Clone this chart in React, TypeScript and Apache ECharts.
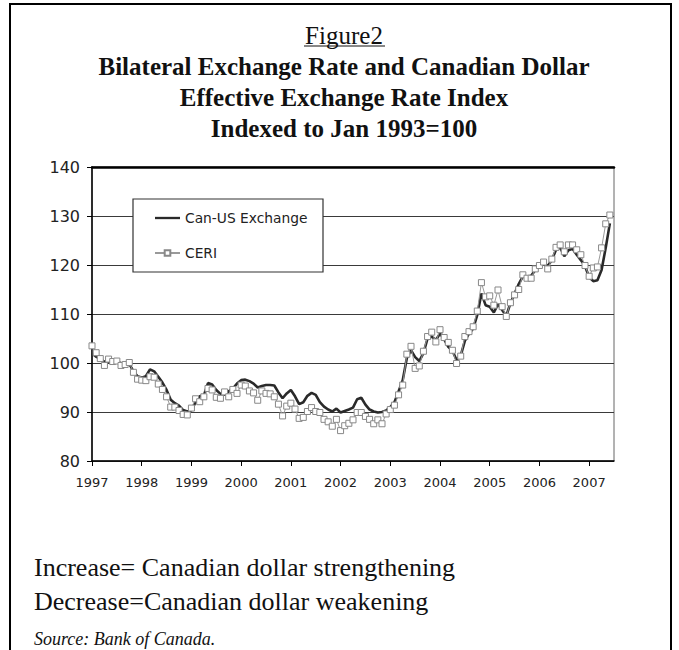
import React, { useEffect, useRef } from "react";
import * as echarts from "echarts";

// ---- Data ----
const startYear = 1997;
const endYear = 2007;
const endMonth = 7; // axis runs to Jul 2007

const months: string[] = [];
for (let y = startYear; y <= endYear; y++) {
  for (let m = 1; m <= 12; m++) {
    if (y === endYear && m > endMonth) break;
    months.push(`${y}-${String(m).padStart(2, "0")}`);
  }
}

const yTicks = [80, 90, 100, 110, 120, 130, 140];

const canUS = [
  102.0, 101.3, 100.8, 100.3, 100.2, 100.4, 100.2, 100.0, 99.9, 99.8, 98.3, 97.3,
  97.0, 97.3, 98.7, 98.3, 97.2, 96.0, 94.5, 92.5, 91.8, 91.3, 90.4, 90.1,
  90.3, 92.0, 93.2, 93.4, 95.9, 95.6, 94.5, 93.7, 93.5, 94.2, 94.8, 95.8,
  96.5, 96.6, 96.3, 95.8, 95.0, 95.3, 95.5, 95.5, 95.4, 94.0, 92.8, 93.8,
  94.5, 93.2, 91.6, 92.0, 93.3, 93.9, 93.5, 92.0, 91.1, 90.5, 90.1, 90.7,
  89.9, 90.2, 90.5, 90.9, 92.6, 92.9, 91.5, 90.5, 90.1, 89.9, 90.0, 90.3,
  91.0, 92.0, 94.2, 96.5, 101.0, 102.6, 101.2, 100.4, 102.0, 105.0, 105.4, 104.7,
  106.0, 104.8, 103.3, 102.5, 100.6, 101.5, 104.5, 106.0, 107.0, 109.8, 114.2, 111.8,
  111.5, 110.3, 112.0, 110.8, 109.6, 112.2, 114.2, 116.1, 117.7, 117.5, 117.8, 119.0,
  119.6, 120.3, 119.8, 121.0, 123.1, 123.6, 121.8, 123.0, 123.3, 122.1, 121.0, 119.8,
  117.5, 116.7, 116.9, 119.0, 123.5, 128.5,
];

const ceri = [
  103.5, 102.1, 100.9, 99.5, 100.8, 100.3, 100.4, 99.5, 99.7, 100.1, 98.1, 96.7,
  96.5, 96.4, 97.2, 97.1, 95.7, 94.6, 93.1, 91.0, 91.0, 90.3, 89.5, 89.4,
  90.8, 92.7, 92.1, 93.1, 94.8, 94.5, 93.0, 92.8, 94.1, 93.1, 94.6, 93.8,
  95.5, 95.3, 94.3, 93.9, 92.4, 94.3, 93.8, 93.7, 93.1, 91.6, 89.2, 91.2,
  91.8, 90.6, 88.7, 88.9, 90.1, 90.9, 90.1, 89.9, 88.5, 88.0, 87.1, 88.5,
  86.2, 87.2, 87.7, 88.4, 89.9, 89.9, 89.1, 88.5, 87.6, 88.4, 87.6, 89.6,
  90.5, 91.4, 93.5, 95.5, 101.8, 103.4, 98.9, 99.4, 102.4, 105.4, 106.3, 104.3,
  106.8, 105.2, 104.2, 102.6, 99.9, 101.4, 105.4, 106.4, 107.4, 110.6, 116.4, 113.5,
  113.7, 111.8, 114.9, 111.5, 109.5, 112.3, 113.9, 115.0, 118.0, 117.3, 117.3, 119.2,
  119.9, 120.6, 119.2, 121.2, 123.6, 124.1, 122.7, 124.1, 124.1, 123.1, 122.1, 119.9,
  117.7, 119.4, 119.6, 123.5, 128.4, 130.2,
];

const seriesNames = ["Can-US Exchange", "CERI"];
const titleFig = "Figure2";
const titleLines = [
  "Bilateral Exchange Rate and Canadian Dollar",
  "Effective Exchange Rate Index",
  "Indexed to Jan 1993=100",
];
const noteLines = [
  "Increase= Canadian dollar strengthening",
  "Decrease=Canadian dollar weakening",
];
const sourceText = "Source: Bank of Canada.";

const SERIF = "'Liberation Serif', 'Times New Roman', serif";
const SANS = "'DejaVu Sans', Verdana, sans-serif";

export default function App() {
  const ref = useRef<HTMLDivElement>(null);

  useEffect(() => {
    if (!ref.current) return;
    const chart = echarts.init(ref.current, undefined, { renderer: "svg" });

    const isYearStart = (idx: number) => idx % 12 === 0;

    const option: any = {
      animation: false,
      backgroundColor: "#ffffff",
      grid: {
        left: 92,
        top: 167,
        right: 65,
        bottom: 189,
        show: true,
        borderColor: "#666",
        borderWidth: 1,
        backgroundColor: "transparent",
      },
      xAxis: [
        {
          type: "category",
          data: months,
          boundaryGap: false,
          axisLine: { show: true, lineStyle: { color: "#000", width: 1.5 } },
          axisTick: {
            show: true,
            interval: (idx: number) => isYearStart(idx),
            length: 5,
            lineStyle: { color: "#000", width: 1 },
          },
          axisLabel: {
            interval: (idx: number) => isYearStart(idx),
            formatter: (v: string) => v.slice(0, 4),
            fontFamily: SANS,
            fontSize: 13,
            color: "#222",
            margin: 15,
          },
          splitLine: { show: false },
        },
        {
          type: "category",
          data: months,
          boundaryGap: false,
          position: "top",
          axisLine: { show: true, lineStyle: { color: "#000", width: 2.5 } },
          axisTick: { show: false },
          axisLabel: { show: false },
          splitLine: { show: false },
        },
      ],
      yAxis: {
        type: "value",
        min: yTicks[0],
        max: yTicks[yTicks.length - 1],
        interval: 10,
        axisLine: { show: true, lineStyle: { color: "#000", width: 1.5 } },
        axisTick: { show: true, length: 5, lineStyle: { color: "#000", width: 1 } },
        axisLabel: {
          fontFamily: SANS,
          fontSize: 16,
          color: "#222",
          margin: 12,
        },
        splitLine: { show: true, lineStyle: { color: "#3a3a3a", width: 1 } },
      },
      legend: {
        data: [
          { name: seriesNames[0], icon: "path://M0,0 L28,0 L28,2.6 L0,2.6 Z" },
          { name: seriesNames[1] },
        ],
        orient: "vertical",
        left: 149,
        top: 206,
        itemWidth: 25,
        itemHeight: 7,
        itemGap: 21,
        z: 200,
        textStyle: { fontFamily: SANS, fontSize: 13.8, color: "#222" },
      },
      series: [
        {
          name: seriesNames[0],
          type: "line",
          data: canUS,
          symbol: "none",
          lineStyle: { color: "#2a2a2a", width: 2.6 },
          itemStyle: { color: "#2a2a2a" },
          z: 3,
        },
        {
          name: seriesNames[1],
          type: "line",
          data: ceri,
          symbol: "rect",
          symbolSize: 6,
          showSymbol: true,
          showAllSymbol: true,
          lineStyle: { color: "#999", width: 1 },
          itemStyle: { color: "#fff", borderColor: "#888", borderWidth: 1 },
          z: 4,
        },
      ],
      graphic: {
        elements: [
          {
            type: "rect",
            z: 0,
            shape: { x: 10, y: 4, width: 661, height: 700 },
            style: { fill: "none", stroke: "#000", lineWidth: 2 },
          },
          {
            type: "rect",
            z: 100,
            shape: { x: 133, y: 199, width: 190, height: 73 },
            style: { fill: "#fff", stroke: "#333", lineWidth: 1.2 },
          },
          {
            type: "text",
            x: 344,
            y: 35,
            style: {
              text: titleFig,
              font: `normal 25px ${SERIF}`,
              textAlign: "center",
              verticalAlign: "middle",
              fill: "#111",
            },
          },
          {
            type: "line",
            shape: { x1: 304, y1: 46, x2: 385, y2: 46 },
            style: { stroke: "#111", lineWidth: 1 },
          },
          ...titleLines.map((t, i) => ({
            type: "text",
            x: 344,
            y: 66 + i * 31,
            style: {
              text: t,
              font: `bold 25px ${SERIF}`,
              textAlign: "center",
              verticalAlign: "middle",
              fill: "#111",
            },
          })),
          ...noteLines.map((t, i) => ({
            type: "text",
            x: 34,
            y: 567 + i * 34,
            style: {
              text: t,
              font: `normal 26px ${SERIF}`,
              textAlign: "left",
              verticalAlign: "middle",
              fill: "#111",
            },
          })),
          {
            type: "text",
            x: 34,
            y: 639,
            style: {
              text: sourceText,
              font: `italic 18px ${SERIF}`,
              textAlign: "left",
              verticalAlign: "middle",
              fill: "#111",
            },
          },
        ],
      },
    };

    chart.setOption(option);
    return () => chart.dispose();
  }, []);

  return (
    <div
      ref={ref}
      style={{ position: "absolute", left: 0, top: 0, width: 679, height: 650 }}
    />
  );
}
